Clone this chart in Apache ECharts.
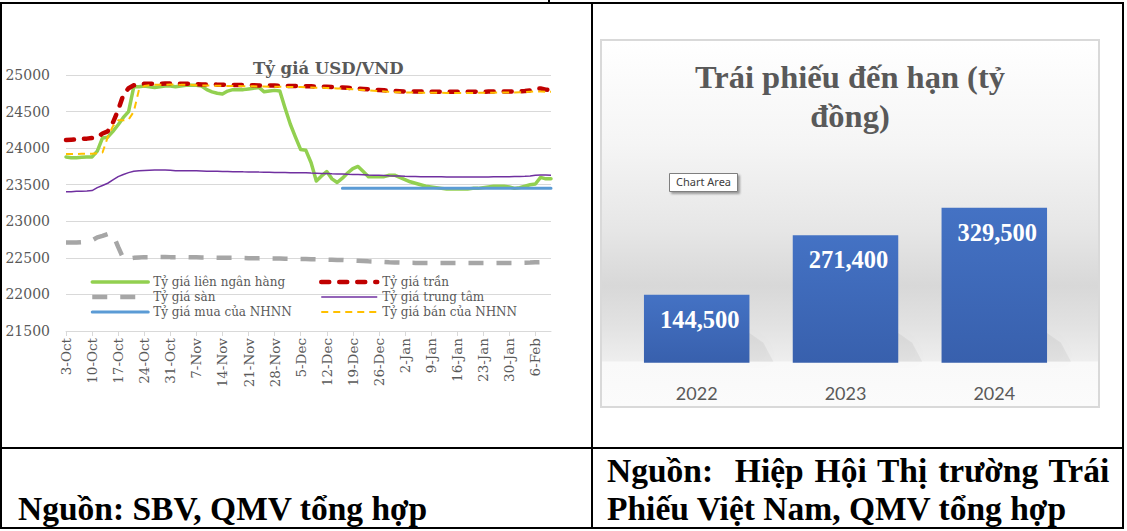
<!DOCTYPE html>
<html><head><meta charset="utf-8">
<script src="https://cdn.jsdelivr.net/npm/echarts@6/dist/echarts.min.js"></script>
<style>
html,body{margin:0;padding:0;background:#fff;width:1127px;height:531px;overflow:hidden;position:relative;}
.ln{position:absolute;background:#000;}
.src{position:absolute;font-family:"Liberation Serif","Times New Roman",serif;font-weight:bold;font-size:33.5px;line-height:33.5px;color:#000;white-space:pre;}
#c1{position:absolute;left:2px;top:4px;width:589px;height:443px;}
#c2{position:absolute;left:600px;top:39px;width:500px;height:369px;box-sizing:border-box;border:2px solid #d9d9d9;
background:linear-gradient(to bottom,#ffffff 0%,#f5f5f5 28%,#e6e6e6 52%,#d8d8d8 67%,#e2e2e2 78%,#eeeeee 87.6%,#f9f9f9 88%,#fbfbfb 100%);}
</style></head>
<body>
<div class="ln" style="left:548px;top:0;width:1.5px;height:3px"></div>
<div class="ln" style="left:0;top:2px;width:1124px;height:2px"></div>
<div class="ln" style="left:0;top:2px;width:2px;height:527px"></div>
<div class="ln" style="left:591px;top:2px;width:2px;height:527px"></div>
<div class="ln" style="left:1122px;top:2px;width:2px;height:527px"></div>
<div class="ln" style="left:0;top:447px;width:1124px;height:2px"></div>
<div class="ln" style="left:0;top:527px;width:1124px;height:2px"></div>
<div id="c1"></div>
<div id="c2"></div>
<div class="src" style="left:18px;top:492px">Nguồn: SBV, QMV tổng hợp</div>
<div class="src" style="left:607px;top:454px;word-spacing:2.5px">Nguồn:  Hiệp Hội Thị trường Trái</div>
<div class="src" style="left:607px;top:492px">Phiếu Việt Nam, QMV tổng hợp</div>
<script>
// ---------- Left chart: Tỷ giá USD/VND ----------
const dates = [
 "3-Oct","4-Oct","5-Oct","6-Oct","7-Oct","10-Oct","11-Oct","12-Oct","13-Oct","14-Oct",
 "17-Oct","18-Oct","19-Oct","20-Oct","21-Oct","24-Oct","25-Oct","26-Oct","27-Oct","28-Oct",
 "31-Oct","1-Nov","2-Nov","3-Nov","4-Nov","7-Nov","8-Nov","9-Nov","10-Nov","11-Nov",
 "14-Nov","15-Nov","16-Nov","17-Nov","18-Nov","21-Nov","22-Nov","23-Nov","24-Nov","25-Nov",
 "28-Nov","29-Nov","30-Nov","1-Dec","2-Dec","5-Dec","6-Dec","7-Dec","8-Dec","9-Dec",
 "12-Dec","13-Dec","14-Dec","15-Dec","16-Dec","19-Dec","20-Dec","21-Dec","22-Dec","23-Dec",
 "26-Dec","27-Dec","28-Dec","29-Dec","30-Dec","2-Jan","3-Jan","4-Jan","5-Jan","6-Jan",
 "9-Jan","10-Jan","11-Jan","12-Jan","13-Jan","16-Jan","17-Jan","18-Jan","19-Jan","20-Jan",
 "23-Jan","24-Jan","25-Jan","26-Jan","27-Jan","30-Jan","31-Jan","1-Feb","2-Feb","3-Feb",
 "6-Feb","7-Feb","8-Feb","9-Feb"
];
const interbank = [
 23880,23870,23870,23875,23880,23880,23960,24140,24150,24230,
 24320,24420,24500,24840,24840,24850,24840,24830,24840,24850,
 24850,24840,24850,24860,24860,24860,24850,24800,24770,24750,
 24740,24780,24800,24800,24800,24810,24820,24830,24770,24780,
 24790,24780,24550,24330,24150,23980,23970,23800,23550,23620,
 23680,23580,23530,23590,23660,23720,23750,23680,23610,23610,
 23610,23610,23630,23630,23600,23570,23540,23520,23500,23480,
 23470,23460,23450,23440,23440,23440,23440,23440,23450,23450,
 23460,23470,23480,23480,23480,23470,23450,23460,23480,23500,
 23510,23600,23580,23580
];
const ceilingRate = [
 24110,24115,24120,24125,24130,24140,24150,24200,24230,24350,
 24520,24730,24820,24860,24870,24880,24880,24880,24880,24885,
 24885,24880,24880,24880,24880,24875,24870,24870,24870,24868,
 24866,24865,24865,24863,24862,24860,24860,24858,24857,24855,
 24855,24853,24852,24850,24850,24850,24847,24845,24842,24840,
 24838,24835,24832,24830,24825,24820,24815,24810,24805,24800,
 24795,24790,24785,24780,24778,24775,24775,24775,24773,24773,
 24772,24772,24772,24770,24770,24770,24770,24770,24770,24772,
 24772,24773,24773,24775,24775,24775,24776,24778,24780,24790,
 24810,24815,24800,24795
];
const floorRate = [
 22710,22710,22710,22715,22730,22740,22780,22800,22825,22820,
 22650,22490,22490,22500,22505,22510,22510,22512,22512,22512,
 22510,22510,22510,22510,22508,22508,22506,22505,22503,22502,
 22500,22500,22500,22498,22497,22495,22494,22493,22492,22491,
 22490,22490,22488,22487,22486,22485,22483,22481,22480,22478,
 22476,22474,22472,22470,22466,22463,22460,22456,22452,22450,
 22447,22444,22440,22437,22435,22433,22432,22431,22430,22430,
 22430,22429,22429,22429,22428,22428,22428,22428,22428,22428,
 22429,22429,22429,22430,22430,22431,22431,22432,22433,22435,
 22440,22442,22442,22440
];
const centralRate = [
 23405,23405,23410,23412,23415,23420,23460,23490,23520,23565,
 23610,23640,23665,23685,23690,23695,23698,23700,23700,23700,
 23698,23690,23690,23692,23692,23690,23688,23685,23685,23683,
 23680,23680,23678,23678,23676,23675,23675,23673,23672,23670,
 23668,23668,23667,23665,23665,23665,23663,23660,23658,23655,
 23653,23650,23648,23645,23642,23640,23638,23635,23632,23630,
 23628,23625,23622,23620,23618,23615,23613,23612,23610,23610,
 23608,23608,23608,23606,23606,23606,23605,23605,23605,23605,
 23606,23606,23608,23608,23610,23610,23612,23612,23615,23620,
 23630,23632,23632,23630
];
const sbvBuy = [
 null,null,null,null,null,null,null,null,null,null,
 null,null,null,null,null,null,null,null,null,null,
 null,null,null,null,null,null,null,null,null,null,
 null,null,null,null,null,null,null,null,null,null,
 null,null,null,null,null,null,null,null,null,null,
 null,null,null,23450,23450,23450,23450,23450,23450,23450,
 23450,23450,23450,23450,23450,23450,23450,23450,23450,23450,
 23450,23450,23450,23450,23450,23450,23450,23450,23450,23450,
 23450,23450,23450,23450,23450,23450,23450,23450,23450,23450,
 23450,23450,23450,23450
];
const sbvSell = [
 23920,23920,23920,23925,23925,23925,23930,23940,24150,24300,
 24380,24380,24390,24500,24800,24850,24860,24865,24865,24865,
 24870,24870,24865,24865,24865,24860,24855,24855,24855,24853,
 24851,24850,24850,24848,24847,24845,24845,24843,24842,24840,
 24840,24838,24837,24835,24835,24835,24832,24830,24827,24825,
 24823,24820,24817,24815,24810,24805,24800,24795,24790,24785,
 24780,24775,24770,24765,24763,24760,24760,24760,24758,24758,
 24757,24757,24757,24755,24755,24755,24755,24755,24755,24757,
 24757,24758,24758,24760,24760,24760,24761,24763,24765,24770,
 24775,24775,24770,24770
];
const seriesNames = ['Tỷ giá liên ngân hàng','Tỷ giá trần','Tỷ giá sàn','Tỷ giá trung tâm','Tỷ giá mua của NHNN','Tỷ giá bán của NHNN'];

// ---------- Right chart: Trái phiếu đến hạn ----------
const bondYears = ['2022','2023','2024'];
const bondValues = [144500, 271400, 329500];

const serifLbl = {fontFamily:'DejaVu Serif', color:'#595959'};
const legendText = {fontFamily:'DejaVu Serif', fontSize:12, color:'#595959'};
const legendCommon = {orient:'vertical', top:272, itemWidth:56, itemHeight:14, itemGap:3, padding:0,
  textStyle:legendText, itemStyle:{opacity:0}, lineStyle:{width:'inherit'}};

const chart1 = echarts.init(document.getElementById('c1'), null, {renderer:'svg'});
chart1.setOption({
  animation:false,
  title:{text:'Tỷ giá USD/VND', left:251, top:56, padding:0,
    textStyle:{fontFamily:'DejaVu Serif', fontWeight:'bold', fontSize:16.5, color:'#595959'}},
  grid:{left:64, top:71, width:485, height:256},
  xAxis:{type:'category', data:dates, boundaryGap:false,
    axisLine:{lineStyle:{color:'#d9d9d9', width:1}},
    axisTick:{show:true, interval:4, length:5, lineStyle:{color:'#d9d9d9'}},
    axisLabel:Object.assign({interval:4, rotate:90, margin:7, fontSize:13.5}, serifLbl),
    splitLine:{show:false}},
  yAxis:{type:'value', min:21500, max:25000, interval:500,
    axisLine:{show:false}, axisTick:{show:false},
    axisLabel:Object.assign({margin:16, fontSize:14, formatter:v=>String(v)}, serifLbl),
    splitLine:{lineStyle:{color:'#d9d9d9', width:1}}},
  legend:[
    Object.assign({data:[seriesNames[0],seriesNames[2],seriesNames[4]], left:88}, legendCommon),
    Object.assign({data:[seriesNames[1],seriesNames[3],seriesNames[5]], left:317}, legendCommon)
  ],
  series:[
    {name:seriesNames[0], type:'line', data:interbank, symbol:'none',
     lineStyle:{color:'#92d050', width:3.5, cap:'round', join:'round'}, itemStyle:{color:'#92d050'}},
    {name:seriesNames[1], type:'line', data:ceilingRate, symbol:'none',
     lineStyle:{color:'#c00000', width:4.5, type:[8,10], cap:'round', join:'round'}, itemStyle:{color:'#c00000'}},
    {name:seriesNames[2], type:'line', data:floorRate, symbol:'none',
     lineStyle:{color:'#a6a6a6', width:4.5, type:[15,13], cap:'butt'}, itemStyle:{color:'#a6a6a6'}},
    {name:seriesNames[3], type:'line', data:centralRate, symbol:'none',
     lineStyle:{color:'#7030a0', width:1.5}, itemStyle:{color:'#7030a0'}},
    {name:seriesNames[4], type:'line', data:sbvBuy, symbol:'none',
     lineStyle:{color:'#5b9bd5', width:3, cap:'round'}, itemStyle:{color:'#5b9bd5'}},
    {name:seriesNames[5], type:'line', data:sbvSell, symbol:'none',
     lineStyle:{color:'#ffc000', width:2, type:[7,5]}, itemStyle:{color:'#ffc000'}}
  ]
});

const chart2 = echarts.init(document.getElementById('c2'), null, {renderer:'svg'});
const BAR_W = 105.5;
chart2.setOption({
  animation:false,
  backgroundColor:'transparent',
  title:{text:'Trái phiếu đến hạn (tỷ\nđồng)', left:'center', top:16, padding:0,
    textStyle:{fontFamily:'Liberation Serif', fontWeight:'bold', fontSize:32.5, lineHeight:39.5, color:'#595959', align:'center'}},
  graphic:[
    {type:'rect', left:67, top:132, shape:{width:68, height:18},
     style:{fill:'#ffffff', stroke:'#7f7f7f', lineWidth:1, shadowBlur:2, shadowOffsetX:2, shadowOffsetY:2, shadowColor:'rgba(0,0,0,0.35)'}},
    {type:'text', left:74, top:134.5,
     style:{text:'Chart Area', fontFamily:'Noto Sans', fontSize:11, fill:'#404040'}}
  ],
  grid:{left:20.3, top:157.2, width:446.4, height:164.5},
  xAxis:{type:'category', data:bondYears, axisLine:{show:false}, axisTick:{show:false},
    axisLabel:{margin:21, fontFamily:'Lato', fontSize:18, color:'#595959'}},
  yAxis:{type:'value', min:0, max:350000, show:false, splitLine:{show:false}},
  series:[
    {type:'custom', z:1, silent:true,
     data:bondValues.map((v,i)=>[i,v]),
     renderItem:(params, api)=>{
       const base = api.coord([api.value(0), 0]);
       const r = base[0] + BAR_W/2, b = base[1];
       return {type:'polygon', shape:{points:[[r-6,b-34],[r+14,b-20],[r+24,b-1],[r-6,b-1]]},
         style:{fill:'rgba(0,0,0,0.05)', shadowBlur:16, shadowColor:'rgba(0,0,0,0.22)'}};
     }},
    {type:'bar', z:2, data:bondValues, barWidth:BAR_W,
     itemStyle:{color:new echarts.graphic.LinearGradient(0,0,0,1,[{offset:0,color:'#4472c4'},{offset:1,color:'#3860ad'}])},
     label:{show:true, position:'insideTop', distance:12, offset:[3,0],
       fontFamily:'Liberation Serif', fontWeight:'bold', fontSize:24.5, color:'#ffffff',
       formatter:p=>p.value.toLocaleString('en-US')}}
  ]
});
</script>
</body></html>
